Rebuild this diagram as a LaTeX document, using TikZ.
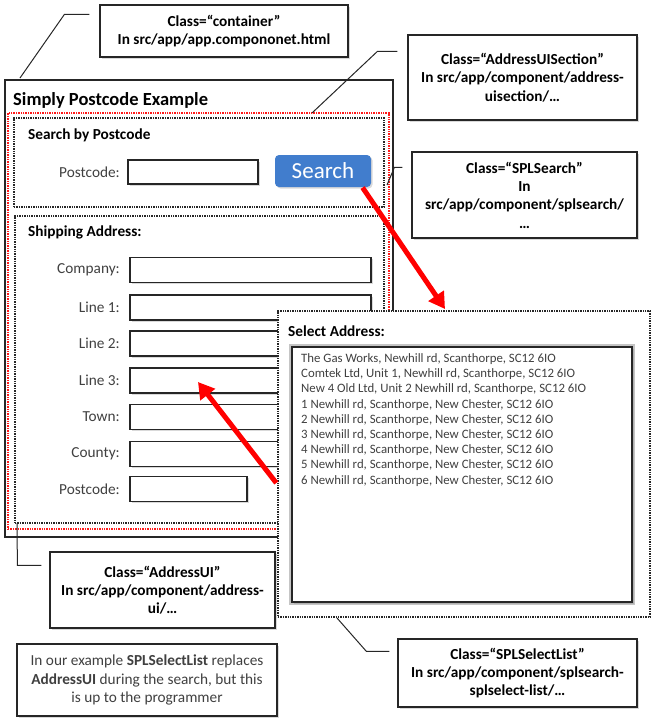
\documentclass[tikz,border=0pt]{standalone}
\usepackage{fontspec}
\setmainfont{Carlito}
\usepackage{tikz}
\usetikzlibrary{calc, shapes, arrows, arrows.meta, shadows}
\definecolor{btnblue}{RGB}{65,125,205}

\begin{document}
\begin{tikzpicture}[x=1pt,y=-1pt]
\tikzstyle{box}=[draw=black!85,line width=1.2pt,fill=white,inner sep=0pt,drop shadow={opacity=0.3,shadow xshift=1.5pt,shadow yshift=-1.5pt}]
\tikzstyle{callout}=[box,align=center,font=\fontsize{15.3}{18.3}\selectfont\bfseries]
\tikzstyle{field}=[box,minimum height=25pt]
\tikzstyle{lbl}=[anchor=east,inner sep=0pt,text=black!75,font=\fontsize{15.3}{18}\selectfont]
\tikzstyle{frame}=[draw=black!85,densely dotted,line width=1.4pt,inner sep=0pt]
\tikzstyle{head}=[anchor=west,inner sep=0pt,font=\fontsize{15.3}{18}\selectfont\bfseries]
\tikzstyle{entry}=[anchor=west,inner sep=0pt,text=black!75,font=\fontsize{12.8}{15}\selectfont]
\tikzstyle{leader}=[draw=black!85,line width=1pt]
\tikzstyle{pointer}=[draw=red,line width=5pt,-{Triangle[length=16pt,width=18pt]}]
\useasboundingbox (0,0) rectangle (658,726);

% outer page with its two sections
\node[draw=black!85,line width=1.2pt,inner sep=0pt,minimum width=388pt,minimum height=457pt] (B_main) at (199,308.5) {};
\node[anchor=west,inner sep=0pt,font=\fontsize{18.5}{22}\selectfont\bfseries] (T_main) at (13,100) {Simply Postcode Example};
\node[frame,draw=red!90,minimum width=381pt,minimum height=416pt] (B_red) at (198.5,321) {};
\node[frame,minimum width=370pt,minimum height=89pt] (B_search) at (199,162.5) {};
\node[frame,minimum width=369pt,minimum height=307pt] (B_ship) at (199.5,369.5) {};

\node[head] (H_search) at (28,135) {Search by Postcode};
\node[lbl] (L_pc) at (120,172) {Postcode:};
\node[field,minimum width=130pt,minimum height=24pt] (F_pc) at (193,172) {};
\node[box,draw=none,fill=btnblue,rounded corners=4pt,minimum width=96pt,minimum height=32pt,text=white,font=\fontsize{23}{26}\selectfont] (B_go) at (323,171) {Search};

\node[head] (H_ship) at (28,232) {Shipping Address:};
\node[lbl] (L_1) at (120,270) {Company:};
\node[lbl] (L_2) at (120,307.5) {Line 1:};
\node[lbl] (L_3) at (120,343.5) {Line 2:};
\node[lbl] (L_4) at (120,380.5) {Line 3:};
\node[lbl] (L_5) at (120,417) {Town:};
\node[lbl] (L_6) at (120,454) {County:};
\node[lbl] (L_7) at (120,489) {Postcode:};
\node[field,minimum width=241pt] (F_1) at (250.5,270) {};
\node[field,minimum width=241pt] (F_2) at (250.5,307.5) {};
\node[field,minimum width=241pt] (F_3) at (250.5,343.5) {};
\node[field,minimum width=241pt] (F_4) at (250.5,380.5) {};
\node[field,minimum width=241pt] (F_5) at (250.5,417) {};
\node[field,minimum width=241pt] (F_6) at (250.5,454) {};
\node[field,minimum width=117pt] (F_7) at (188.5,489) {};

% pop-up list
\node[frame,fill=white,minimum width=372pt,minimum height=306pt] (B_pick) at (464,464) {};
\node[head] (H_pick) at (288,331) {Select Address:};
\node[box,line width=1.6pt,minimum width=340pt,minimum height=255pt,drop shadow={opacity=0.45,shadow xshift=0pt,shadow yshift=0pt,shadow scale=1.02}] (B_list) at (462,474.5) {};
\node[entry] (E_1) at (301,359) {The Gas Works, Newhill rd, Scanthorpe, SC12 6IO};
\node[entry] (E_2) at (301,374.2) {Comtek Ltd, Unit 1, Newhill rd, Scanthorpe, SC12 6IO};
\node[entry] (E_3) at (301,389.4) {New 4 Old Ltd, Unit 2 Newhill rd, Scanthorpe, SC12 6IO};
\node[entry] (E_4) at (301,404.6) {1 Newhill rd, Scanthorpe, New Chester, SC12 6IO};
\node[entry] (E_5) at (301,419.8) {2 Newhill rd, Scanthorpe, New Chester, SC12 6IO};
\node[entry] (E_6) at (301,435) {3 Newhill rd, Scanthorpe, New Chester, SC12 6IO};
\node[entry] (E_7) at (301,450.2) {4 Newhill rd, Scanthorpe, New Chester, SC12 6IO};
\node[entry] (E_8) at (301,465.4) {5 Newhill rd, Scanthorpe, New Chester, SC12 6IO};
\node[entry] (E_9) at (301,480.6) {6 Newhill rd, Scanthorpe, New Chester, SC12 6IO};

% callouts
\node[callout,minimum width=248pt,minimum height=52pt] (C_cont) at (224,31) {Class=“container”\\In src/app/app.compononet.html};
\node[callout,minimum width=229pt,minimum height=85pt] (C_sec) at (522.5,77.5) {Class=“AddressUISection”\\In src/app/component/address-\\uisection/…};
\node[callout,minimum width=225pt,minimum height=86pt] (C_srch) at (524.5,195) {Class=“SPLSearch”\\In\\src/app/component/splsearch/\\…};
\node[callout,minimum width=225pt,minimum height=76pt] (C_ui) at (162.5,590) {Class=“AddressUI”\\In src/app/component/address-\\ui/…};
\node[callout,minimum width=239pt,minimum height=68pt] (C_list) at (517.5,673) {Class=“SPLSelectList”\\In src/app/component/splsearch-\\splselect-list/…};
\node[callout,font=\fontsize{15.3}{18.3}\selectfont,text=black!75,minimum width=260pt,minimum height=72pt] (C_note) at (147,680) {In our example \textbf{SPLSelectList} replaces\\\textbf{AddressUI} during the search, but this\\is up to the programmer};

\coordinate (P_cont) at (20,78);
\coordinate (P_sec) at (312,113);
\coordinate (P_srch) at (387,185);
\coordinate (P_ui) at (17,523);
\coordinate (P_list) at (337,618);
\draw[leader] ($(C_cont.north west)+(-10,10)$) -- ++(-25,0) -- (P_cont);
\draw[leader] ($(C_sec.north west)+(-10,17)$) -- ++(-20,0) -- (P_sec);
\draw[leader] ($(C_srch.north west)+(-9,16)$) -- ++(-8,0) -- (P_srch);
\draw[leader] ($(C_ui.north west)+(-8,14)$) -- ++(-24,0) -- (P_ui);
\draw[leader] ($(C_list.north west)+(-8,13)$) -- ++(-23,0) -- (P_list);

% red arrows
\coordinate (P_drop) at (445,309);
\coordinate (P_fill) at (198,382);
\draw[pointer] ($(B_go.south east)+(-9,0)$) -- (P_drop);
\draw[pointer] ($(B_pick.west)+(-1,19)$) -- (P_fill);
\end{tikzpicture}
\end{document}
